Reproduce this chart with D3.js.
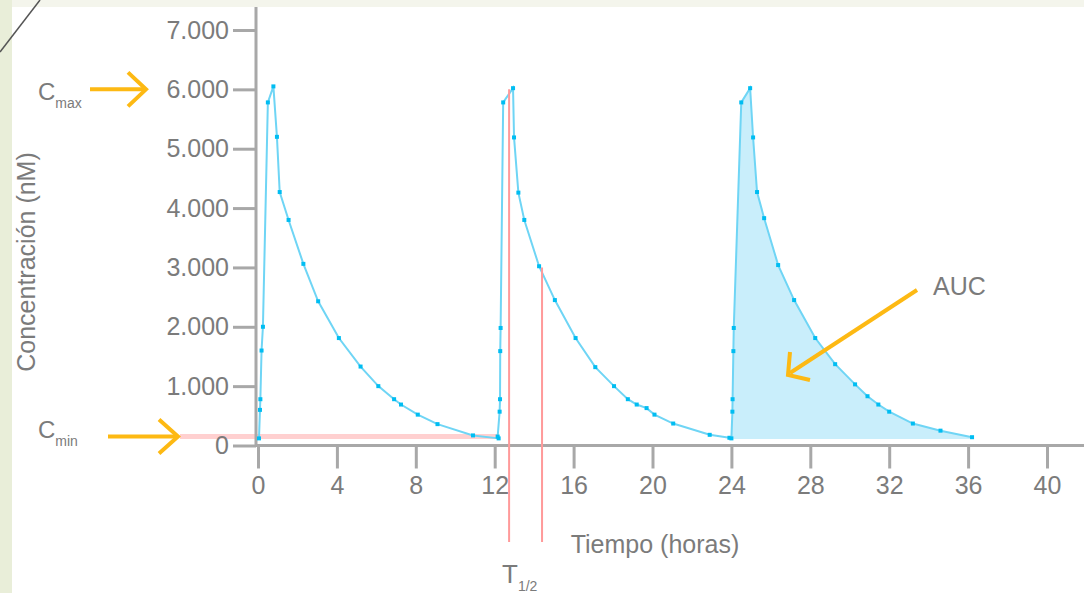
<!DOCTYPE html>
<html>
<head>
<meta charset="utf-8">
<script src="https://cdn.jsdelivr.net/npm/d3@7"></script>
<style>
  body { margin: 0; background: #fff; }
  text { font-family: "Liberation Sans", Arial, sans-serif; }
</style>
</head>
<body>
<script>
// doses: time in hours, concentration in nM
var tiempo1 = [0.05, 0.1, 0.12, 0.18, 0.25, 0.5, 0.78, 0.96, 1.1, 1.55, 2.3, 3.05, 4.1, 5.2, 6.1, 6.9, 7.25, 8.1, 9.1, 10.9, 12.2];
var conc1   = [120, 600, 780, 1600, 2000, 5780, 6050, 5200, 4270, 3800, 3060, 2430, 1810, 1330, 1000, 780, 690, 520, 360, 170, 120];

var tiempo2 = [12.15, 12.25, 12.27, 12.28, 12.3, 12.43, 12.93, 12.98, 13.2, 13.5, 14.25, 15.05, 16.1, 17.1, 18.05, 18.75, 19.2, 19.7, 20.1, 21.05, 22.9, 23.9];
var conc2   = [150, 570, 780, 1590, 1980, 5780, 6020, 5190, 4260, 3800, 3020, 2450, 1810, 1320, 1000, 780, 690, 630, 520, 370, 180, 130];

var tiempo3 = [24.0, 24.05, 24.06, 24.1, 24.12, 24.5, 24.95, 25.1, 25.3, 25.66, 26.37, 27.18, 28.25, 29.26, 30.27, 30.9, 31.45, 32.0, 33.2, 34.6, 36.2];
var conc3   = [120, 570, 780, 1590, 1980, 5780, 6020, 5190, 4270, 3830, 3040, 2450, 1810, 1370, 1030, 830, 690, 570, 370, 250, 140];

var xTicks = [0, 4, 8, 12, 16, 20, 24, 28, 32, 36, 40];
var yTicks = [0, 1000, 2000, 3000, 4000, 5000, 6000, 7000];

var cMin = 150, cMax = 6000, tMaxDose2 = 12.73, tHalf = 14.4;

var W = 1084, H = 593;

var svg = d3.select("body").append("svg")
    .attr("width", W)
    .attr("height", H);

// background strips
svg.append("rect").attr("width", W).attr("height", H).attr("fill", "#fff");
svg.append("rect").attr("x", 0).attr("y", 0).attr("width", W).attr("height", 7).attr("fill", "#f4f5ec");
svg.append("rect").attr("x", 0).attr("y", 0).attr("width", 12).attr("height", H).attr("fill", "#e9eed9");
svg.append("line")
    .attr("x1", 0).attr("y1", 52).attr("x2", 40).attr("y2", 0)
    .attr("stroke", "#555").attr("stroke-width", 1.5);

var x = d3.scaleLinear().domain([0, 40]).range([258, 1047]);
var y = d3.scaleLinear().domain([0, 7000]).range([445.5, 30]);

var es = d3.formatLocale({decimal: ",", thousands: ".", grouping: [3], currency: ["", ""]});
var fmt = es.format(",");

var grey = "#a8a8a8", txt = "#7b7b7b";

// AUC area (third dose)
var d3pts = tiempo3.map(function(t, i) { return [t, conc3[i]]; });
svg.append("path")
    .datum(d3pts)
    .attr("fill", "#c9eefb")
    .attr("d", d3.area().x(function(d) { return x(d[0]); }).y0(y(110)).y1(function(d) { return y(d[1]); }));

// Cmin line
svg.append("line")
    .attr("x1", 180).attr("x2", x(12.2))
    .attr("y1", y(cMin)).attr("y2", y(cMin))
    .attr("stroke", "#ffd0d0").attr("stroke-width", 5);

// axes
var xAxis = svg.append("g")
    .attr("transform", "translate(0," + y(0) + ")")
    .call(d3.axisBottom(x).tickValues(xTicks).tickSize(23).tickPadding(8));
var yAxis = svg.append("g")
    .attr("transform", "translate(256,0)")
    .call(d3.axisLeft(y).tickValues(yTicks).tickSize(23).tickPadding(4).tickFormat(fmt));

[xAxis, yAxis].forEach(function(a) {
    a.select(".domain").remove();
    a.selectAll(".tick line").attr("stroke", grey).attr("stroke-width", 3);
    a.selectAll(".tick text").attr("fill", txt).style("font-size", "25px")
        .style("font-family", "'Liberation Sans', Arial, sans-serif");
});

svg.append("line")
    .attr("x1", 256).attr("x2", W).attr("y1", y(0)).attr("y2", y(0))
    .attr("stroke", grey).attr("stroke-width", 3);
svg.append("line")
    .attr("x1", 256).attr("x2", 256).attr("y1", 7).attr("y2", y(0) + 1.5)
    .attr("stroke", grey).attr("stroke-width", 3);

// curves
var line = d3.line().x(function(d) { return x(d[0]); }).y(function(d) { return y(d[1]); });
var doses = [
    tiempo1.map(function(t, i) { return [t, conc1[i]]; }),
    tiempo2.map(function(t, i) { return [t, conc2[i]]; }),
    d3pts
];
doses.forEach(function(pts) {
    svg.append("path")
        .datum(pts)
        .attr("fill", "none")
        .attr("stroke", "#6fd5f5")
        .attr("stroke-width", 2)
        .attr("d", line);
    svg.selectAll(null)
        .data(pts)
        .enter().append("rect")
        .attr("x", function(d) { return x(d[0]) - 2; })
        .attr("y", function(d) { return y(d[1]) - 2; })
        .attr("width", 4).attr("height", 4)
        .attr("fill", "#00bdf2");
});

// T1/2 lines
svg.append("line")
    .attr("x1", x(tMaxDose2)).attr("x2", x(tMaxDose2))
    .attr("y1", y(cMax)).attr("y2", 542)
    .attr("stroke", "#ff9a9a").attr("stroke-width", 2);
svg.append("line")
    .attr("x1", x(tHalf)).attr("x2", x(tHalf))
    .attr("y1", y(cMax / 2)).attr("y2", 542)
    .attr("stroke", "#ff9a9a").attr("stroke-width", 2);

// orange arrows
var orange = "#fdb913";
function arrow(x1, y1, x2, y2, head) {
    svg.append("line")
        .attr("x1", x1).attr("y1", y1).attr("x2", x2).attr("y2", y2)
        .attr("stroke", orange).attr("stroke-width", 4);
    svg.append("path")
        .attr("d", head)
        .attr("fill", "none").attr("stroke", orange).attr("stroke-width", 4)
        .attr("stroke-linejoin", "miter");
}
arrow(90, y(cMax), 146, y(cMax), "M128," + (y(cMax) - 17) + "L146," + y(cMax) + "L128," + (y(cMax) + 17));
arrow(108, y(cMin), 178, y(cMin), "M159," + (y(cMin) - 17) + "L178," + y(cMin) + "L159," + (y(cMin) + 17));
arrow(917, 290, 790, 373, "M790,352L788,375L810,380");

// labels
function label(xp, yp, main, sub, size, subSize) {
    var t = svg.append("text").attr("x", xp).attr("y", yp)
        .attr("fill", txt).style("font-size", size + "px").text(main);
    if (sub) {
        t.append("tspan").attr("dy", 8).style("font-size", subSize + "px").text(sub);
    }
    return t;
}
label(38, 100, "C", "max", 24, 14);
label(38, 438, "C", "min", 24, 14);
label(502, 583, "T", "1/2", 26, 14);
label(933, 295, "AUC", null, 25);

svg.append("text")
    .attr("x", 655).attr("y", 553)
    .attr("text-anchor", "middle")
    .attr("fill", txt).style("font-size", "25px")
    .text("Tiempo (horas)");

svg.append("text")
    .attr("transform", "translate(35,262) rotate(-90)")
    .attr("text-anchor", "middle")
    .attr("fill", txt).style("font-size", "25px")
    .text("Concentración (nM)");
</script>
</body>
</html>
